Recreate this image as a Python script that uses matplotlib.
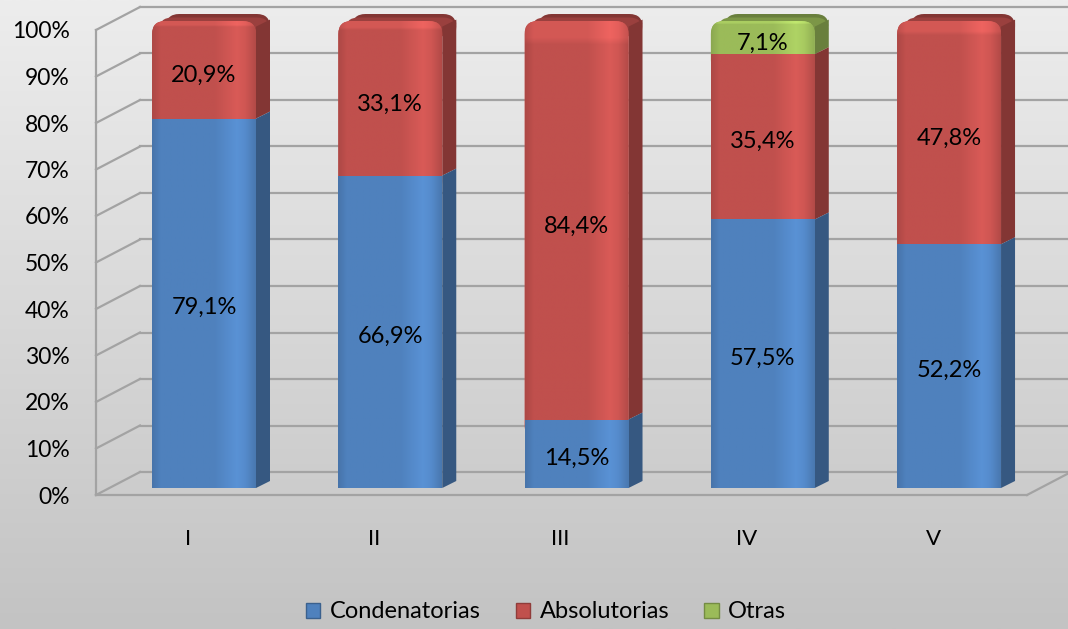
import numpy as np
import matplotlib.pyplot as plt
from matplotlib.patches import Polygon, FancyBboxPatch, Patch
from matplotlib.colors import LinearSegmentedColormap, to_rgb

plt.rcParams['font.family'] = ['Lato', 'DejaVu Sans']

# datos (porcentaje de sentencias)
categorias = ['I', 'II', 'III', 'IV', 'V']
condenatorias = [79.1, 66.9, 14.5, 57.5, 52.2]
absolutorias = [20.9, 33.1, 84.4, 35.4, 47.8]
otras = [0.0, 0.0, 0.0, 7.1, 0.0]
series = ['Condenatorias', 'Absolutorias', 'Otras']
ticks_y = [0, 10, 20, 30, 40, 50, 60, 70, 80, 90, 100]

colores = ['#4f81bd', '#c0504d', '#9bbb59']
W, H = 1068, 629


def caja(x0, y0, x1, y1):
    # rectangulo en pixeles -> fraccion de figura
    return [x0 / W, 1 - y1 / H, (x1 - x0) / W, (y1 - y0) / H]


def tono(c, f):
    r = np.clip(np.array(to_rgb(c)) * f, 0, 1)
    return tuple(r)


fig = plt.figure(figsize=(W / 100, H / 100), dpi=100)

# fondo degradado
fondo = fig.add_axes([0, 0, 1, 1])
cmap_bg = LinearSegmentedColormap.from_list('bg', ['#c3c3c3', '#ededed'])
fondo.imshow(np.linspace(0, 1, 256).reshape(-1, 1), cmap=cmap_bg, aspect='auto',
             extent=[0, 1, 0, 1], origin='lower')
fondo.axis('off')

# paredes y lineas de division (perspectiva)
pared = fig.add_axes(caja(96, 30, 1027, 495))
pared.set_xlim(0, 1)
pared.set_ylim(0, 100)
pared.patch.set_visible(False)
for s in pared.spines.values():
    s.set_visible(False)
pared.set_xticks([])
pared.set_yticks(ticks_y, [f'{v}%' for v in ticks_y], fontsize=16.5)
pared.tick_params(axis='y', length=0, pad=19)
DX, DY = 44 / 931, 23 / 4.65
gris = '#a3a3a3'
for v in ticks_y:
    pared.plot([DX, 1 + DX], [v + DY, v + DY], color=gris, lw=1.6, clip_on=False)
    pared.plot([0, DX], [v, v + DY], color=gris, lw=1.6, clip_on=False)
pared.plot([0, 0], [0, 100], color=gris, lw=1.6, clip_on=False)
pared.plot([0, 1], [0, 0], color=gris, lw=1.6, clip_on=False)
pared.plot([1, 1 + DX], [0, DY], color=gris, lw=1.6, clip_on=False)

# barras
ax = fig.add_axes(caja(110.9, 21, 1042.2, 488))
ax.axis('off')
x = np.arange(len(categorias))
datos = np.array([condenatorias, absolutorias, otras])
totales = datos.sum(axis=0)
partes = datos / totales * 100
ancho = 0.558
DXB, DYB = 14 / 186.25, 7 / 4.67
perfil_t = [0, 0.08, 0.6, 0.82, 0.9, 1.0]
perfil_f = [0.9, 1.0, 1.0, 1.13, 1.08, 0.93]

base = np.zeros(len(categorias))
for k in range(len(series)):
    for i in range(len(categorias)):
        h = partes[k, i]
        if h <= 0:
            continue
        b = base[i]
        t = b + h
        es_tope = np.all(partes[k + 1:, i] <= 0)
        xl, xr = x[i] - ancho / 2, x[i] + ancho / 2
        c = colores[k]
        z = 10 - k
        # cara lateral
        recorte = 1.2 if es_tope else 0
        ax.add_patch(Polygon([(xr, b), (xr + DXB, b + DYB), (xr + DXB, t + DYB - recorte),
                              (xr, t - recorte)],
                             closed=True, fc=tono(c, 0.68), ec='none', zorder=z, clip_on=False))
        if es_tope:
            # cara superior redondeada
            ax.add_patch(FancyBboxPatch((xl + DXB * 0.5, t - 4 + DYB * 0.5), ancho + DXB * 0.5, 4,
                                        boxstyle='round,pad=0,rounding_size=0.07',
                                        mutation_aspect=40, fc=tono(c, 0.8), ec='none',
                                        zorder=z - 0.05, clip_on=False))
            ax.add_patch(FancyBboxPatch((xl + DXB, t - 4 + DYB), ancho, 4,
                                        boxstyle='round,pad=0,rounding_size=0.07',
                                        mutation_aspect=40, fc=tono(c, 0.68), ec='none',
                                        zorder=z - 0.1, clip_on=False))
            cara = FancyBboxPatch((xl, b - 4), ancho, h + 4,
                                  boxstyle='round,pad=0,rounding_size=0.07',
                                  mutation_aspect=40, fc=c, ec='none', zorder=z, clip_on=False)
        else:
            cara = Polygon([(xl, b), (xr, b), (xr, t), (xl, t)], closed=True,
                           fc=c, ec='none', zorder=z, clip_on=False)
        ax.add_patch(cara)
        tt = np.linspace(0, 1, 120)
        f = np.interp(tt, perfil_t, perfil_f)
        img = np.array([[tono(c, fi) for fi in f]])
        if es_tope:
            img = np.repeat(img, 60, axis=0)
            vert = np.ones(60)
            vert[-3:] = 1.1
            img = np.clip(img * vert[:, None, None], 0, 1)
        im = ax.imshow(img, extent=[xl, xr, b - (4 if es_tope else 0), t], aspect='auto',
                       origin='lower', zorder=z + 0.1, interpolation='bilinear')
        im.set_clip_path(cara)
        ax.text(x[i], b + h / 2 - (1.2 if es_tope else 0.9), f'{datos[k, i]:.1f}%'.replace('.', ','),
                ha='center', va='center', fontsize=17, zorder=20)
    base += partes[k]

ax.set_xlim(-0.5, 4.5)
ax.set_ylim(0, 100)

# etiquetas de categoria
for i, cat in enumerate(categorias):
    ax.text(x[i] - 16 / 186.25, -51 / 4.67, cat, ha='center', va='center',
            fontsize=16, clip_on=False)

manejadores = [Patch(fc=c, ec=tono(c, 0.75)) for c in colores]
fig.legend(manejadores, series, loc='center', bbox_to_anchor=(546 / W, 1 - 612 / H),
           ncol=3, frameon=False, fontsize=17, handlelength=0.6, handleheight=0.6,
           handletextpad=0.4, columnspacing=1.5)

fig.savefig('out.png', dpi=100)
